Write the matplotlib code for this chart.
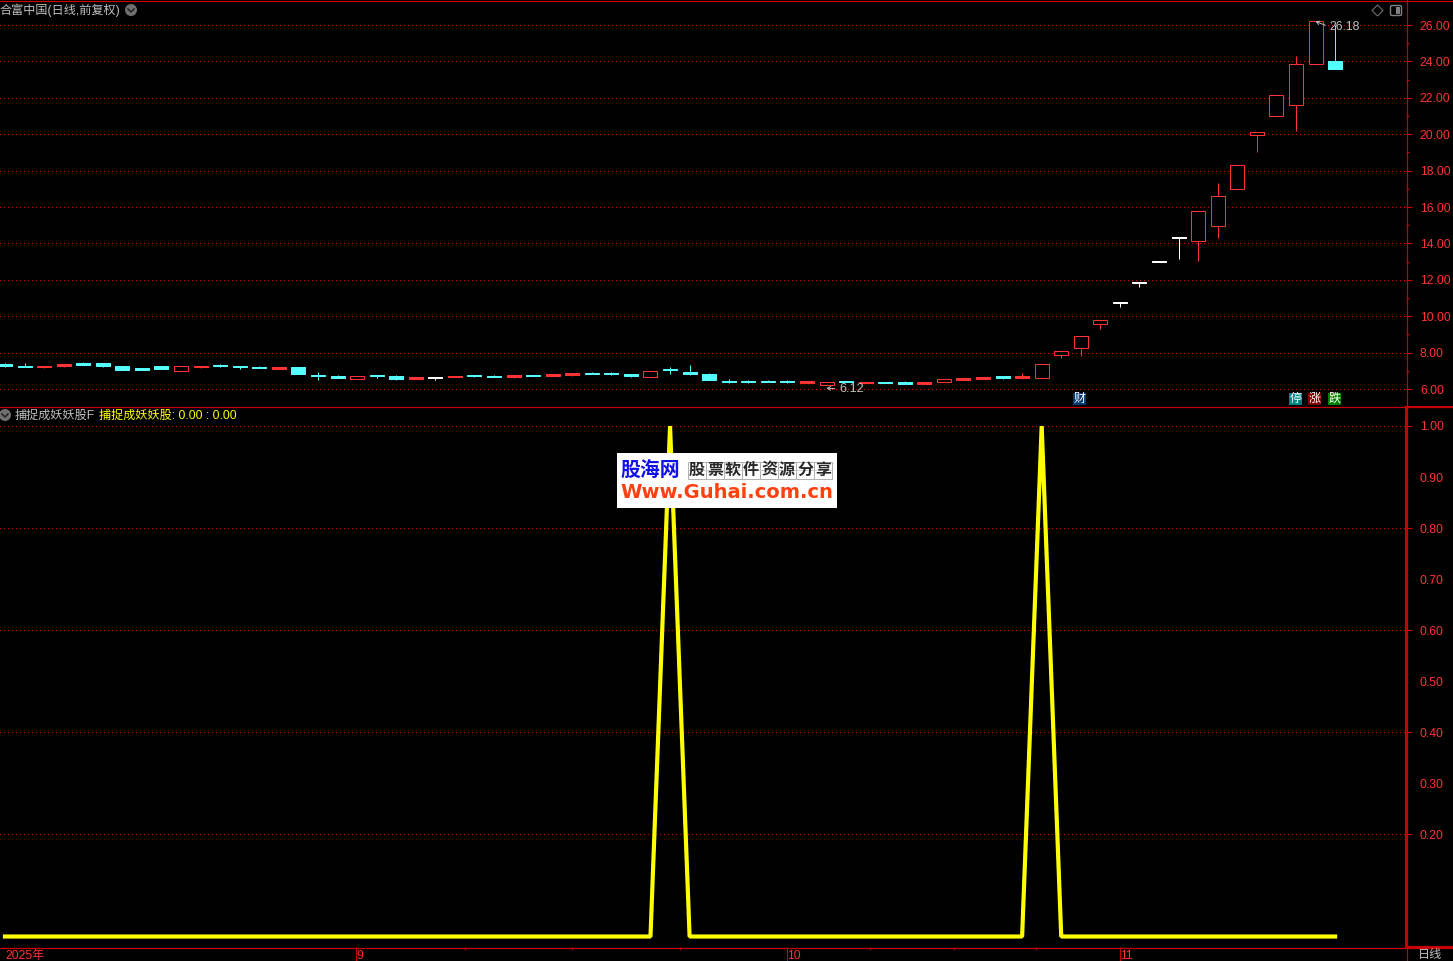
import matplotlib
matplotlib.use('Agg')
import matplotlib.pyplot as plt
from matplotlib.patches import Rectangle, Circle, Polygon, FancyBboxPatch

plt.rcParams['font.family'] = ['Liberation Sans', 'Noto Sans CJK SC', 'DejaVu Sans']

W, H = 1453, 961
RED = '#c80000'
GRID = '#e00000'
LABEL = '#ff3232'
CYAN = '#54ffff'
CANDLE_RED = '#ff3232'
YELLOW = '#ffff00'
GRAY = '#c0c0c0'

# candle data: open is the top of the body here
body_top = [7.37, 7.26, 7.26, 7.37, 7.41, 7.41, 7.26, 7.15, 7.26, 7.26, 7.26, 7.32, 7.26, 7.21, 7.21, 7.21, 6.77,
            6.71, 6.71, 6.77, 6.71, 6.66, 6.66, 6.71, 6.77, 6.71, 6.77, 6.77, 6.82, 6.88, 6.88, 6.88, 6.82, 6.99,
            7.10, 6.93, 6.82, 6.44, 6.44, 6.44, 6.44, 6.44, 6.38, 6.44, 6.38, 6.38, 6.38, 6.38, 6.55, 6.60, 6.66,
            6.71, 6.71, 7.36, 8.07, 8.90, 9.77, 10.76, 11.86, 13.02, 14.33, 15.76, 16.58, 18.29, 20.10, 22.14,
            23.84, 26.20, 24.02]
body_bot = [7.28, 7.23, 7.21, 7.26, 7.32, 7.26, 7.04, 7.04, 7.10, 6.99, 7.21, 7.28, 7.23, 7.17, 7.10, 6.82, 6.73,
            6.60, 6.55, 6.71, 6.55, 6.55, 6.60, 6.66, 6.71, 6.66, 6.66, 6.71, 6.71, 6.77, 6.82, 6.82, 6.71, 6.66,
            7.04, 6.82, 6.49, 6.38, 6.38, 6.38, 6.38, 6.33, 6.22, 6.38, 6.33, 6.33, 6.27, 6.27, 6.38, 6.49, 6.55,
            6.60, 6.60, 6.62, 7.85, 8.27, 9.55, 10.72, 11.82, 13.00, 14.29, 14.15, 14.97, 17.01, 19.97, 21.02,
            21.62, 23.84, 23.60]
wick_hi = [7.43, 7.43, 7.26, 7.37, 7.47, 7.41, 7.26, 7.15, 7.26, 7.26, 7.26, 7.37, 7.26, 7.26, 7.21, 7.21, 6.93,
           6.77, 6.71, 6.77, 6.77, 6.66, 6.66, 6.71, 6.77, 6.77, 6.77, 6.77, 6.82, 6.88, 6.93, 6.93, 6.82, 6.99,
           7.21, 7.32, 6.88, 6.55, 6.49, 6.49, 6.49, 6.44, 6.38, 6.44, 6.38, 6.38, 6.44, 6.38, 6.55, 6.60, 6.66,
           6.71, 6.88, 7.36, 8.07, 8.90, 9.77, 10.76, 11.86, 13.02, 14.33, 15.76, 17.32, 18.29, 20.10, 22.14,
           24.30, 26.20, 26.00]
wick_lo = [7.22, 7.23, 7.17, 7.19, 7.32, 7.21, 7.04, 7.04, 7.10, 6.99, 7.15, 7.21, 7.10, 7.17, 7.10, 6.82, 6.49,
           6.60, 6.55, 6.60, 6.49, 6.55, 6.49, 6.66, 6.66, 6.66, 6.60, 6.71, 6.71, 6.71, 6.82, 6.77, 6.66, 6.66,
           6.82, 6.77, 6.49, 6.33, 6.33, 6.38, 6.33, 6.33, 6.22, 6.38, 6.33, 6.33, 6.27, 6.27, 6.38, 6.49, 6.55,
           6.55, 6.55, 6.62, 7.72, 7.83, 9.30, 10.52, 11.62, 13.00, 13.16, 13.03, 14.31, 17.01, 19.04, 21.02,
           20.19, 23.84, 23.60]
# c cyan filled, R red filled, r red hollow, w white
candle_kind = list('ccRRccccc' + 'rRccc' + 'Rcc' + 'crcc' + 'Rw' + 'Rcc' + 'RcRRccc' + 'rcc' + 'c' + 'ccccR' + 'rcRcc'
                   + 'Rr' + 'RRcR' + 'r' + 'rrr' + 'wwww' + 'rrrrrrr' + 'c')

signal = [0] * 34 + [1] + [0] * 18 + [1] + [0] * 15

price_ticks = [6, 8, 10, 12, 14, 16, 18, 20, 22, 24, 26]
price_minor = [7, 9, 11, 13, 15, 17, 19, 21, 23, 25]
signal_grid = [0.2, 0.4, 0.6, 0.8, 1.0]
signal_minor = [0.3, 0.5, 0.7, 0.9]
month_pos = [17.95, 40.0, 57.0]
month_labels = ['9', '10', '11']
week_pos = [23.5, 29.0, 34.5, 44.2, 48.5, 52.7]
watermark_cn = '股票软件资源分享'
badges = [('财', 1079.5, '#003a70'), ('停', 1295.5, '#008080'), ('涨', 1314.5, '#800000'), ('跌', 1334.5, '#008000')]


def px_axes(fig, x0, y0, x1, y1):
    return fig.add_axes([x0 / W, 1 - y1 / H, (x1 - x0) / W, (y1 - y0) / H], facecolor='black')


def chevron(ax, x, y):
    ax.add_patch(Circle((x, y), 6, facecolor='#707070', edgecolor='none'))
    ax.plot([x - 3, x, x + 3], [y - 1, y + 2, y - 1], color='#202020', lw=1.1)


fig = plt.figure(figsize=(W / 100, H / 100), dpi=100, facecolor='black')
top = px_axes(fig, 0, 1, 1406, 406)
low = px_axes(fig, 0, 407, 1406, 947)
xlim = (-5 / 19.56, (1406 - 5) / 19.56)

top.set_xlim(xlim)
top.set_ylim(6 + (389 - 406) / 18.2, 6 + (389 - 1) / 18.2)
low.set_xlim(xlim)
low.set_ylim((936.5 - 947) / 510.5, (936.5 - 407) / 510.5)

for ax in (top, low):
    ax.set_xticks([])
    for s in ax.spines.values():
        s.set_visible(False)
    ax.yaxis.tick_right()
    ax.tick_params(axis='y', which='major', direction='out', color=RED, labelcolor=LABEL, labelsize=8.7, length=4,
                   width=0.8, pad=6)

# top panel
top.set_yticks(price_ticks, labels=[f'{v:.2f}' for v in price_ticks])
top.set_yticks(price_minor, minor=True)
top.tick_params(axis='y', which='minor', direction='out', color=RED, length=2, width=0.8)
for v in price_ticks:
    top.axhline(v, color=GRID, lw=0.72, dashes=(1, 3), snap=True, antialiased=False, dash_capstyle='butt', zorder=1)

half = 7.0 / 19.56
colors = {'c': CYAN, 'R': CANDLE_RED, 'r': CANDLE_RED, 'w': 'white'}
for i, k in enumerate(candle_kind):
    col = colors[k]
    top.plot([i, i], [wick_lo[i], wick_hi[i]], color=col, lw=0.72, zorder=2, solid_capstyle='butt', snap=True)
    height = body_top[i] - body_bot[i]
    filled = k in 'cRw'
    top.add_patch(Rectangle((i - half, body_bot[i]), 2 * half, height, facecolor=col if filled else 'black',
                            edgecolor=col, lw=0.72, snap=True, zorder=3))

arrow = dict(arrowstyle='->,head_length=0.25,head_width=0.15', color=GRAY, lw=0.7, shrinkA=1, shrinkB=0, relpos=(0, 0.5))
top.annotate('26.18', xy=(67, 26.2), xytext=(1329.5 / 19.56 - 5 / 19.56, 25.89), color=GRAY, fontsize=8.7,
             va='center', ha='left', arrowprops=arrow)
top.annotate('6.12', xy=(42, 6.05), xytext=(839 / 19.56 - 5 / 19.56, 6.0), color=GRAY, fontsize=9.2,
             va='center', ha='left', arrowprops=arrow)

# bottom panel
low.set_yticks(signal_grid, labels=[f'{v:.2f}' for v in signal_grid])
low.set_yticks(signal_minor, labels=[f'{v:.2f}' for v in signal_minor], minor=True)
low.tick_params(axis='y', which='minor', direction='out', color=RED, labelcolor=LABEL, labelsize=8.7, length=1,
                width=0.8, pad=9)
for v in signal_grid:
    low.axhline(v, color=GRID, lw=0.72, dashes=(1, 3), snap=True, antialiased=False, dash_capstyle='butt', zorder=1)
low.plot(range(len(signal)), signal, color=YELLOW, lw=3.0, solid_joinstyle='bevel', solid_capstyle='projecting',
         zorder=3)

# date axis
dates = px_axes(fig, 0, 947, 1406, 961)
dates.set_xlim(xlim)
dates.set_ylim(1, 0)
dates.axis('off')
dates.vlines(month_pos, 0, 1, color=RED, lw=0.72)
dates.vlines(week_pos, 0, 0.2, color=RED, lw=0.72)
for p, s in zip(month_pos, month_labels):
    dates.text(p, 0.62, s, color=LABEL, fontsize=8.7, va='center', ha='left', clip_on=True)
dates.text(0, 0.62, '2025年', color=LABEL, fontsize=8.7, va='center', ha='left', clip_on=True)

# overlay in pixel units for frame, headers, icons and badges
ui = fig.add_axes([0, 0, 1, 1], zorder=4)
ui.set_xlim(0, W)
ui.set_ylim(H, 0)
ui.axis('off')
ui.patch.set_alpha(0)

for y in (0.5, 406.5, 947.5):
    ui.plot([0, W], [y, y], color=RED, lw=0.9)
ui.plot([1406.5, 1406.5], [0, H], color=RED, lw=0.9)
ui.plot([1406, 1406], [407, 947], color=RED, lw=1.5)
ui.plot([1406, W], [406.7, 406.7], color=RED, lw=1.5)
ui.plot([1406, W], [947, 947], color=RED, lw=1.5)

ui.text(0, 10.6, '合富中国(日线,前复权)', color=GRAY, fontsize=8.7, va='center', ha='left')
ui.text(15, 415.7, '捕捉成妖妖股F', color=GRAY, fontsize=8.7, va='center', ha='left')
ui.text(99, 415.7, '捕捉成妖妖股: 0.00 : 0.00', color=YELLOW, fontsize=8.7, va='center', ha='left')
ui.text(1417.5, 955, '日线', color=GRAY, fontsize=8.7, va='center', ha='left')
chevron(ui, 131, 10)
chevron(ui, 5, 415)
ui.add_patch(Polygon([(1377.5, 5), (1383, 10.5), (1377.5, 16), (1372, 10.5)], closed=True, facecolor='none',
                     edgecolor='#707070', lw=0.8))
ui.add_patch(FancyBboxPatch((1391, 6), 10, 9, boxstyle='round,pad=0.5,rounding_size=1.5', facecolor='none',
                            edgecolor='#808080', lw=1.0))
ui.add_patch(Rectangle((1396, 7), 4, 7, facecolor='#808080', edgecolor='none'))

for s, x, c in badges:
    ui.add_patch(Rectangle((x - 6.5, 392.5), 13, 12.5, facecolor=c, edgecolor='none'))
    ui.text(x, 398.5, s, color='white', fontsize=8.7, va='center', ha='center')

# watermark
ui.add_patch(Rectangle((617, 453), 220, 55, facecolor='white', edgecolor='none', zorder=5))
ui.text(620.5, 470, '股海网', color='#1010e8', fontsize=14.3, fontweight='bold', va='center', ha='left', zorder=6)
for n, ch in enumerate(watermark_cn):
    x0 = 688 + n * 18
    ui.add_patch(Rectangle((x0, 462), 18, 16.5, facecolor='white', edgecolor='#b0b0b0', lw=0.7, zorder=6))
    ui.plot([x0, x0 + 18], [470.2, 470.2], color='#c8c8c8', lw=0.6, zorder=6)
    ui.text(x0 + 9, 470, ch, color='#282828', fontsize=11.5, fontweight='bold', va='center', ha='center', zorder=7)
ui.text(727, 492.5, 'Www.Guhai.com.cn', color='#ff4010', fontsize=14, fontweight='bold', family='DejaVu Sans',
        va='center', ha='center', zorder=6)

fig.savefig('out.png', dpi=100, facecolor='black')
